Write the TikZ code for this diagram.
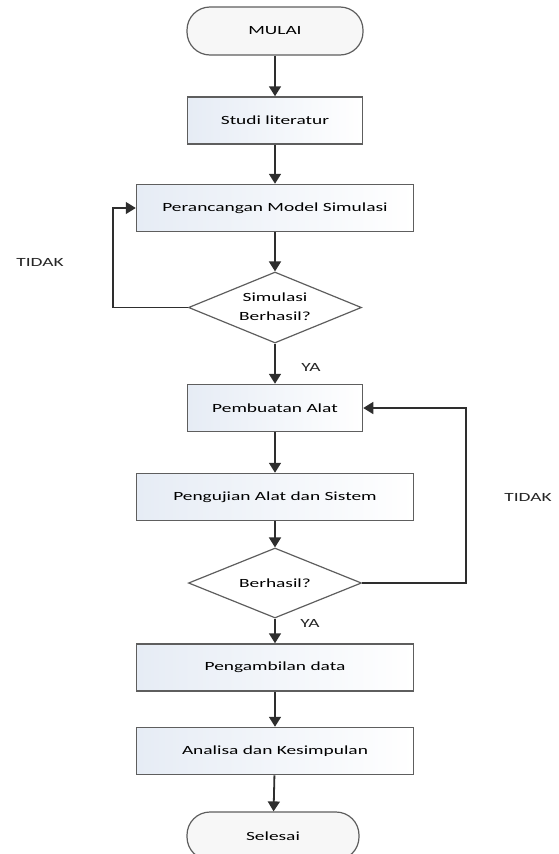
\documentclass[tikz,border=0pt]{standalone}
\usepackage{graphicx}
\usepackage{fontspec}
\setmainfont{Carlito}
\usetikzlibrary{shapes.geometric,arrows.meta}
\newcommand{\lbl}[1]{\scalebox{1.55}[1]{\fontsize{12.5}{15}\selectfont #1}}
\newcommand{\lbltwo}[2]{\scalebox{1.55}[1]{\fontsize{12.5}{19}\selectfont\begin{tabular}{@{}c@{}}#1\\[0pt]#2\end{tabular}}}
\definecolor{edge}{HTML}{5E5E5E}
\definecolor{arr}{HTML}{2E2E2E}
\definecolor{tint}{HTML}{E6ECF5}
\tikzset{
  procbox/.style={draw=edge, line width=1.5pt, rectangle, minimum height=47pt, inner sep=0pt,
    left color=tint, right color=white},
  termbox/.style={draw=edge, line width=1.2pt, rectangle, rounded corners=23pt,
    minimum width=176pt, minimum height=48pt, inner sep=0pt, fill=gray!6},
  decbox/.style={draw=edge, line width=1.2pt, diamond, aspect=2.43, inner sep=0pt,
    minimum width=173pt, minimum height=71pt, fill=white},
  flow/.style={draw=arr, line width=1.8pt, -{Triangle[width=12pt,length=10pt]}},
  tag/.style={inner sep=0pt, text=black!85}
}
\begin{document}
\begin{tikzpicture}[x=1pt,y=-1pt]
\useasboundingbox (0,0) rectangle (558,854);
\node[termbox] (start) at (275,31) {\lbl{MULAI}};
\node[procbox, minimum width=175pt] (studi) at (275,120.5) {\lbl{Studi literatur}};
\node[procbox, minimum width=277pt] (rancang) at (275,208) {\lbl{Perancangan Model Simulasi}};
\node[decbox] (sim) at (275,307.5) {\lbltwo{Simulasi}{Berhasil?}};
\node[procbox, minimum width=175pt] (buat) at (275,408) {\lbl{Pembuatan Alat}};
\node[procbox, minimum width=277pt] (uji) at (275,497) {\lbl{Pengujian Alat dan Sistem}};
\node[decbox, minimum height=70pt] (ber) at (275,583) {\lbl{Berhasil?}};
\node[procbox, minimum width=277pt] (ambil) at (275,667.5) {\lbl{Pengambilan data}};
\node[procbox, minimum width=277pt] (analisa) at (275,751) {\lbl{Analisa dan Kesimpulan}};
\node[termbox, minimum width=172pt] (selesai) at (273,836) {\lbl{Selesai}};

\coordinate (l1) at (113,307.5);
\coordinate (l2) at (113,208);
\coordinate (r1) at (466,583);
\coordinate (r2) at (466,408);

\draw[flow] (start) -- (studi);
\draw[flow] (studi) -- (rancang);
\draw[flow] (rancang) -- (sim);
\draw[flow] (sim) -- (buat);
\draw[flow] (buat) -- (uji);
\draw[flow] (uji) -- (ber);
\draw[flow] (ber) -- (ambil);
\draw[flow] (ambil) -- (analisa);
\draw[flow] (analisa) -- (selesai);
\draw[flow, line width=1.4pt] (sim.west) -- (l1) -- (l2) -- (rancang.west);
\draw[flow, line width=1.4pt] (ber.east) -- (r1) -- (r2) -- (buat.east);

\node[tag] (t1) at (40,262) {\lbl{TIDAK}};
\node[tag] (t2) at (528,497) {\lbl{TIDAK}};
\node[tag] (y1) at (311,367) {\lbl{YA}};
\node[tag] (y2) at (310,623) {\lbl{YA}};
\end{tikzpicture}
\end{document}
